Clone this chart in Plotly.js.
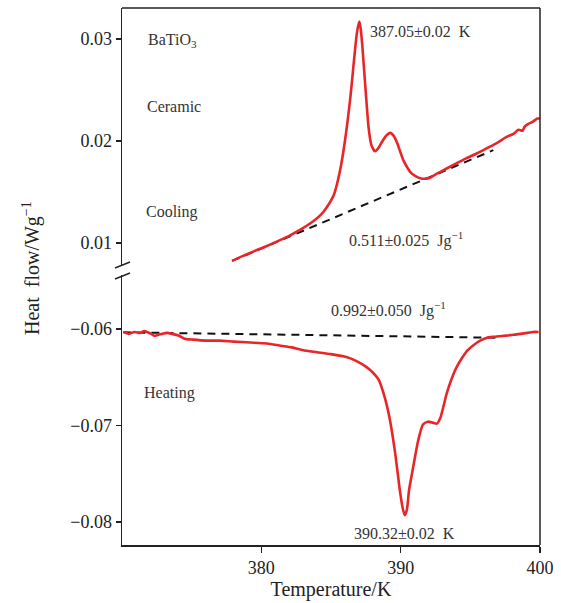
<!DOCTYPE html>
<html>
<head>
<meta charset="utf-8">
<script src="https://cdn.plot.ly/plotly-3.0.1.min.js"></script>
<style>html,body{margin:0;padding:0;background:#fff;}#chart{width:561px;height:603px;}</style>
</head>
<body>
<div id="chart"></div>
<script>
// ---- Data ----
var coolT = [377.9, 378.6, 379.5, 380.4, 381.3, 382.0, 382.8, 383.7, 384.3, 384.7, 385.2, 385.65, 386.0, 386.4, 386.65, 386.85, 386.97, 387.05, 387.15, 387.25, 387.45, 387.7, 387.9, 388.15, 388.4, 388.65, 388.95, 389.25, 389.5, 389.75, 390.2, 390.8, 391.4, 392.0, 392.6, 393.3, 394.0, 394.7, 395.5, 396.2, 396.9, 397.6, 398.1, 398.45, 398.75, 398.9, 399.2, 399.5, 399.8, 400.0];
var coolQ = [0.00824, 0.00868, 0.0092, 0.0097, 0.01025, 0.0107, 0.0113, 0.0121, 0.0128, 0.0135, 0.0147, 0.0171, 0.0200, 0.0244, 0.0279, 0.0305, 0.0314, 0.0317, 0.0308, 0.0293, 0.0256, 0.0213, 0.0196, 0.0190, 0.0193, 0.0199, 0.0205, 0.0208, 0.0205, 0.0198, 0.0181, 0.0168, 0.01635, 0.01634, 0.0168, 0.0173, 0.0178, 0.0183, 0.0188, 0.0193, 0.0198, 0.0204, 0.0207, 0.0211, 0.0210, 0.0214, 0.0217, 0.0219, 0.0222, 0.0222];
var coolBaseT = [377.9, 396.65];
var coolBaseQ = [0.00824, 0.0191];

var heatT = [370.1, 370.5, 370.9, 371.3, 371.6, 371.8, 372.1, 372.3, 372.6, 372.9, 373.2, 373.6, 374.1, 374.5, 375.1, 376.0, 377.0, 378.0, 379.2, 380.4, 381.3, 382.2, 383.0, 384.0, 385.0, 386.1, 386.8, 387.5, 388.0, 388.4, 388.8, 389.2, 389.6, 389.95, 390.15, 390.3, 390.45, 390.6, 390.9, 391.25, 391.6, 391.95, 392.3, 392.6, 392.85, 393.3, 393.7, 394.0, 394.4, 394.8, 395.2, 395.7, 396.2, 396.7, 397.4, 398.1, 398.6, 399.1, 399.5, 399.9];
var heatQ = [-0.0603, -0.0605, -0.0603, -0.0604, -0.0602, -0.0603, -0.0605, -0.0607, -0.0606, -0.0605, -0.0604, -0.0605, -0.0607, -0.0610, -0.0611, -0.0612, -0.0612, -0.0613, -0.0614, -0.0615, -0.0617, -0.0619, -0.0622, -0.0624, -0.0626, -0.0629, -0.0633, -0.0639, -0.0645, -0.0652, -0.0668, -0.0692, -0.0728, -0.0768, -0.0786, -0.0793, -0.0787, -0.0767, -0.0743, -0.0716, -0.0699, -0.0696, -0.0697, -0.0698, -0.0692, -0.0667, -0.0650, -0.0640, -0.0630, -0.0622, -0.0617, -0.0612, -0.0609, -0.0608, -0.0607, -0.0606, -0.0605, -0.0604, -0.0603, -0.0603];
var heatBaseT = [370.1, 396.9];
var heatBaseQ = [-0.06034, -0.0609];

var xTicks = [380, 390, 400];
var yTopTicks = [0.01, 0.02, 0.03];
var yBotTicks = [-0.06, -0.07, -0.08];

var labelSample = "BaTiO<sub>3</sub>";
var labelForm = "Ceramic";
var labelCool = "Cooling";
var labelHeat = "Heating";
var labelCoolPeak = "387.05±0.02  K";
var labelCoolEnth = "0.511±0.025  Jg<sup>−1</sup>";
var labelHeatEnth = "0.992±0.050  Jg<sup>−1</sup>";
var labelHeatPeak = "390.32±0.02  K";

// ---- Layout helpers ----
var L = 122, R = 540, T = 8, B = 545, W = 561, H = 603;
function px(x) { return (x - L) / (R - L); }
function py(y) { return (B - y) / (B - T); }

var red = "rgb(232,38,42)";
var ink = "#222";
var serif = "Liberation Serif, Times New Roman, serif";

var traces = [
  {x: coolBaseT, y: coolBaseQ, xaxis: "x", yaxis: "y2", mode: "lines",
   line: {color: "#111", width: 2, dash: "8px,6px"}, hoverinfo: "skip"},
  {x: coolT, y: coolQ, xaxis: "x", yaxis: "y2", mode: "lines",
   line: {color: red, width: 2.6, shape: "spline", smoothing: 0.6}},
  {x: heatBaseT, y: heatBaseQ, xaxis: "x", yaxis: "y", mode: "lines",
   line: {color: "#111", width: 2, dash: "8px,6px"}, hoverinfo: "skip"},
  {x: heatT, y: heatQ, xaxis: "x", yaxis: "y", mode: "lines",
   line: {color: red, width: 2.6, shape: "spline", smoothing: 0.6}}
];

var topDomBot = py(265), botDomTop = py(275);

function ann(text, x, y, size, extra) {
  var a = {text: text, xref: "paper", yref: "paper", x: px(x), y: py(y),
           xanchor: "left", yanchor: "middle", showarrow: false,
           font: {family: serif, size: size, color: "#333"}};
  if (extra) for (var k in extra) a[k] = extra[k];
  return a;
}

var annotations = [
  ann(labelSample, 146, 40, 16),
  ann(labelForm, 145, 107, 16),
  ann(labelCool, 144, 212, 16),
  ann(labelHeat, 142, 393, 16),
  ann(labelCoolPeak, 368, 32, 16),
  ann(labelCoolEnth, 347, 239, 16),
  ann(labelHeatEnth, 329, 309, 16),
  ann(labelHeatPeak, 352, 533, 16),
  {text: "Heat  flow/Wg<sup>−1</sup>", xref: "paper", yref: "paper",
   x: px(31), y: py(268), xanchor: "center", yanchor: "middle", textangle: -90,
   showarrow: false, font: {family: serif, size: 20, color: "#222"}}
];

var shapes = [
  {type: "line", xref: "paper", yref: "paper", x0: 0, x1: 1, y0: 1, y1: 1, line: {color: ink, width: 1.5}},
  {type: "line", xref: "paper", yref: "paper", x0: 1, x1: 1, y0: 0, y1: 1, line: {color: ink, width: 1.5}},
  {type: "line", xref: "paper", yref: "paper", x0: px(115), x1: px(130), y0: py(268), y1: py(262), line: {color: ink, width: 1.5}},
  {type: "line", xref: "paper", yref: "paper", x0: px(115), x1: px(130), y0: py(279), y1: py(273), line: {color: ink, width: 1.5}}
];

var tickFont = {family: serif, size: 18, color: "#222"};

var layout = {
  width: W, height: H,
  margin: {l: L, r: W - R, t: T, b: H - B, pad: 0},
  paper_bgcolor: "#fff", plot_bgcolor: "#fff",
  showlegend: false,
  xaxis: {range: [370, 400], tickvals: xTicks, ticks: "outside", ticklen: 6, tickwidth: 1.5,
          tickcolor: ink, showline: true, linecolor: ink, linewidth: 1.5, showgrid: false,
          zeroline: false, tickfont: tickFont, anchor: "y",
          title: {text: "Temperature/K", font: {family: serif, size: 20, color: "#222"}, standoff: 2}},
  yaxis: {domain: [0, botDomTop], range: [-0.08238, -0.0544], tickvals: yBotTicks, tickformat: ".2f",
          ticks: "outside", ticklen: 5, tickwidth: 1.5, tickcolor: ink, showline: true,
          linecolor: ink, linewidth: 1.5, showgrid: false, zeroline: false, tickfont: tickFont, anchor: "x"},
  yaxis2: {domain: [topDomBot, 1], range: [0.00784, 0.03304], tickvals: yTopTicks, tickformat: ".2f",
           ticks: "outside", ticklen: 5, tickwidth: 1.5, tickcolor: ink, showline: true,
           linecolor: ink, linewidth: 1.5, showgrid: false, zeroline: false, tickfont: tickFont, anchor: "x"},
  annotations: annotations,
  shapes: shapes
};

Plotly.newPlot("chart", traces, layout, {displayModeBar: false, staticPlot: true});
</script>
</body>
</html>
